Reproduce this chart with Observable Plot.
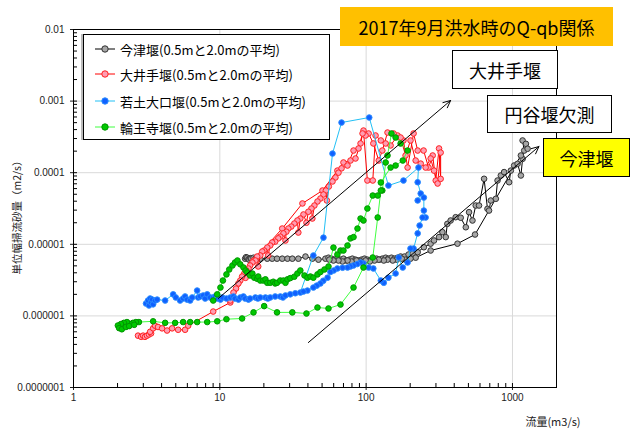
<!DOCTYPE html>
<html><head><meta charset="utf-8">
<script src="https://cdn.jsdelivr.net/npm/d3@7"></script>
<script src="https://cdn.jsdelivr.net/npm/@observablehq/plot@0.6"></script>
<style>
body{margin:0;background:#fff;}
#wrap{position:relative;width:635px;height:430px;overflow:hidden;font-family:"Noto Sans CJK JP","Noto Sans",sans-serif;}
#wrap svg{position:absolute;left:0;top:0;overflow:visible;}
.box{position:absolute;box-sizing:border-box;display:flex;align-items:center;justify-content:center;color:#000;white-space:nowrap;}
#legend{position:absolute;left:83px;top:34px;width:247px;height:106px;box-sizing:border-box;border:1px solid #000;background:#fff;box-shadow:-2px 0 0 #bbb;}
.lrow{position:absolute;left:0;height:20px;display:flex;align-items:center;font-size:13px;white-space:nowrap;}
</style></head><body>
<div id="wrap"></div>
<script>
// ---- data (Q in m3/s, qb in m2/s) ----
const seriesNames = ["今津堰(0.5mと2.0mの平均)","大井手堰(0.5mと2.0mの平均)","若土大口堰(0.5mと2.0mの平均)","輪王寺堰(0.5mと2.0mの平均)"];

const imazu = [
[14.9,6.3e-6],[15.1,6.6e-6],[15.4,6.5e-6],[15.7,6.2e-6],[15.9,6.1e-6],[16.2,6.4e-6],[16.4,6.3e-6],[17.0,6.5e-6],[17.5,6.3e-6],
[18.9,6.3e-6],[21.1,6.3e-6],[22.8,6.3e-6],[24.6,6.3e-6],[26.7,6.3e-6],[29.0,6.3e-6],[31.3,6.3e-6],[34.4,6.3e-6],[38.5,6.75e-6],[42.9,6.3e-6],[47.2,6.1e-6],[52.7,6.3e-6],
[55.3,6.5e-6],[58.0,6.3e-6],[60.7,6.1e-6],[63.6,6.3e-6],[66.8,6.1e-6],[70.0,6.3e-6],[73.3,5.94e-6],[76.8,6.1e-6],[80.5,6.3e-6],[84.6,6.1e-6],[88.7,5.94e-6],[92.9,6.1e-6],[97.4,6.3e-6],[102,6.1e-6],[107,5.94e-6],[112,6.1e-6],[118,6.3e-6],[123,6.1e-6],[129,6.3e-6],[136,6.5e-6],[142,6.3e-6],[149,6.5e-6],[156,6.3e-6],[164,6.5e-6],[172,6.75e-6],[183,6.75e-6],[195,7.2e-6],[208,7.45e-6],[225,7.76e-6],
[248,9.1e-6],[276,1.02e-5],[291,1.13e-5],[315,1.26e-5],[332,1.48e-5],[350,1.26e-5],[359,1.93e-5],[378,2.15e-5],[409,2.39e-5],[443,2.35e-5],[480,1.73e-5],[505,2.81e-5],[533,2.15e-5],[561,3.48e-5],[591,3.48e-5],[640,8.22e-5],[675,3.13e-5],[692,2.96e-5],[711,4.09e-5],[770,4.32e-5],[791,7.78e-5],[833,9.14e-5],[877,1.02e-4],[949,7.36e-5],[975,1.07e-4],[1027,1.26e-4],[1084,1.33e-4],[1142,9.14e-5],[1173,1.56e-4],[1203,2.04e-4],[1173,2.82e-4],[1236,2.53e-4],[1269,2.16e-4],[1142,1.74e-4],
[555,1.37e-5],[421,1.02e-5],[276,8.19e-6],
[218,6.5e-6],[201,6.3e-6],[186,6.1e-6],[175,6.3e-6],[162,6.1e-6],[152,5.94e-6],[140,6.1e-6],[132,5.94e-6],[122,6.1e-6],[114,5.94e-6],[106,5.75e-6],[99.1,5.94e-6],[91.6,5.75e-6],[85.9,5.94e-6],[79.4,5.75e-6],[74.6,5.94e-6],[68.9,5.75e-6],[64.7,5.94e-6],[59.8,5.94e-6],[56.1,6.1e-6]
];

const ooide = [
[2.76,5.3e-7],[2.90,5.1e-7],[2.99,5.3e-7],[3.08,5.1e-7],[3.18,5.3e-7],[3.28,5.5e-7],[3.39,5.7e-7],[3.34,6.0e-7],[3.50,6.7e-7],[3.61,7.3e-7],[3.78,7.0e-7],[4.03,6.7e-7],[4.36,6.25e-7],[4.72,6.7e-7],[5.19,6.4e-7],[5.79,6.4e-7],[6.08,7.3e-7],
[9.01,1.15e-6],[11.8,1.54e-6],[17.0,5.94e-6],[26.7,1.66e-5],[36.7,3.72e-5],[50.3,5.64e-5],[63.6,1.07e-4],
[70.0,1.39e-4],[78.2,1.48e-4],[84.6,1.58e-4],[91.6,2.56e-4],[95.9,3.88e-4],[102,7.78e-5],[111,7.78e-5],[116,3.31e-4],[126,2.82e-4],[136,2.56e-4],[147,2.40e-4],[164,3.31e-4],[180,2.82e-4],[192,1.18e-4],[211,3.53e-4],[225,2.04e-4],[247,2.04e-4],[267,1.18e-4],[285,1.74e-4],[299,7.78e-5],[315,2.18e-4],[323,8.2e-5],
[323,1.91e-4],[308,7.06e-5],[291,1.07e-4],[276,1.58e-4],[255,1.18e-4],[236,1.34e-4],[218,1.48e-4],[201,2.82e-4],[186,1.74e-4],[172,3.1e-4],[154,3.53e-4],[140,3.64e-4],[129,2.04e-4],[122,1.48e-4],[112,2.56e-4],[104,3.53e-4],[99.1,3.31e-4],[94.5,3.53e-4],[88.7,2.18e-4],[82.0,2.04e-4],[74.6,1.26e-4],
[67.9,1.15e-4],[64.7,1.0e-4],[61.7,8.57e-5],[58.9,7.54e-5],[55.6,6.41e-5],[53.9,4.09e-5],[53.1,5.64e-5],[51.1,4.96e-5],[48.7,4.36e-5],[46.5,3.96e-5],[44.3,3.48e-5],[42.9,2.29e-5],[42.3,3.16e-5],[40.3,2.85e-5],[39.1,2.0e-5],[37.3,2.61e-5],[35.5,2.29e-5],[34.4,1.46e-5],[33.9,2.15e-5],[32.3,1.95e-5],[30.8,1.77e-5],[29.4,1.66e-5],[28.5,1.50e-5],[28.1,1.13e-5],[27.2,1.42e-5],[25.9,1.28e-5],[25.1,1.21e-5],[23.9,1.09e-5],[22.8,1.06e-5],[22.1,9.62e-6],[21.4,7.0e-6],[21.1,9.02e-6],[20.1,8.19e-6],[19.5,7.93e-6],[18.9,6.98e-6],[18.3,4.9e-6],[18.0,6.75e-6],[17.5,5.94e-6],[16.7,5.57e-6],[16.1,5.06e-6],[15.7,4.59e-6],[15.2,4.31e-6],[15.0,3.4e-6],[14.7,3.91e-6],[14.2,3.55e-6],[13.8,3.12e-6],[13.4,2.84e-6],[12.9,2.41e-6],[12.4,2.12e-6],[11.8,1.64e-6]
];

const wakato = [
[3.13,1.49e-6],[3.23,1.64e-6],[3.28,1.40e-6],[3.34,1.75e-6],[3.39,1.54e-6],[3.45,1.69e-6],[3.50,1.45e-6],[3.61,1.64e-6],[3.73,1.69e-6],[4.23,1.64e-6],[4.80,2.0e-6],[5.0,1.81e-6],[5.35,1.64e-6],[5.61,1.75e-6],[5.79,1.87e-6],[5.98,1.69e-6],[6.27,1.64e-6],[6.47,1.81e-6],[7.0,2.26e-6],[7.11,1.81e-6],[7.34,1.87e-6],[7.70,1.93e-6],[7.94,1.75e-6],[8.2,2.0e-6],[8.59,1.81e-6],[9.01,1.81e-6],[9.3,1.87e-6],[9.6,1.75e-6],[10.1,1.69e-6],[10.4,1.81e-6],[11.1,1.75e-6],[11.8,1.81e-6],[12.4,1.87e-6],[12.7,1.75e-6],[13.4,1.69e-6],[13.8,1.81e-6],[14.5,1.87e-6],[14.9,1.75e-6],[15.7,1.69e-6],[16.1,1.75e-6],[17.5,1.81e-6],[18.2,1.75e-6],[18.9,1.81e-6],[20.5,1.81e-6],[21.3,1.75e-6],[22.1,1.81e-6],[23.9,1.87e-6],[25.9,1.87e-6],[27.0,1.81e-6],[28.1,1.93e-6],[30.3,2.0e-6],[32.8,2.07e-6],[35.5,2.12e-6],
[43.6,6.98e-6],[51.1,1.24e-5],[58.9,1.85e-4],[67.9,5.02e-4],[105,5.9e-4],[142,6.62e-5],[180,7.78e-5],[228,1.18e-4],[225,7.36e-5],[236,5.12e-5],[225,4.09e-5],[248,4.5e-5],[248,2.96e-5],[255,2.37e-5],[243,2.37e-5],[232,1.83e-5],[225,1.42e-5],[211,8.73e-6],[201,8.73e-6],[192,5.57e-6],[178,4.74e-6],[167,6.54e-6],[159,3.91e-6],[142,3.42e-6],[132,2.9e-6],[126,3.12e-6],[112,4.6e-6],[104,4.74e-6],[95.9,5.4e-6],[91.6,5.57e-6],[87,5.3e-6],[82.0,5.06e-6],[78,4.9e-6],[74.6,4.74e-6],[69,4.7e-6],[63.6,4.6e-6],[60,4.3e-6],[57.0,4.1e-6],[54.5,3.42e-6],[51,3.1e-6],[48.7,2.84e-6],[46,2.65e-6],[43.6,2.49e-6],[39.7,2.26e-6],[37.3,2.19e-6]
];

const rinnoji = [
[9.01,1.64e-6],[9.6,2.0e-6],[10.1,2.49e-6],[10.5,3.12e-6],[11.1,3.8e-6],[11.6,4.45e-6],[12.2,5.06e-6],[12.7,5.57e-6],[13.2,5.94e-6],[13.8,5.25e-6],[14.5,4.75e-6],[15.0,4.3e-6],[15.4,4.04e-6],[16.1,3.67e-6],[16.7,3.9e-6],[17.2,3.42e-6],[18.0,3.3e-6],[18.3,3.55e-6],[18.9,3.12e-6],[19.8,3.12e-6],[20.5,3.24e-6],[21.1,2.9e-6],[22.1,2.9e-6],[23.2,3.0e-6],[23.9,2.84e-6],[24.6,2.9e-6],[25.9,3.12e-6],[27.2,3.12e-6],[28.1,2.9e-6],[29.0,3.24e-6],[30.3,3.37e-6],[32.3,3.53e-6],[33.9,3.91e-6],[35.5,4.31e-6],[37.9,3.67e-6],[39.7,3.42e-6],[41.6,3.55e-6],[43.6,3.42e-6],[46.5,3.8e-6],[48.7,4.1e-6],[51.9,4.45e-6],[55.3,4.9e-6],[59.8,9.0e-6],[63.6,7.2e-6],[66.8,8.19e-6],[70.0,8.19e-6],[74.6,9.62e-6],[78.2,1.21e-5],[82.0,1.26e-5],[87.3,1.66e-5],[91.6,2.29e-5],[95.9,2.15e-5],[102,3.16e-5],[111,4.8e-5],[120,4.8e-5],[129,5.64e-5],[136,1.39e-4],[140,1.74e-4],[149,3.53e-4],
[159,3.1e-4],[172,2.56e-4],[192,2.04e-4],[178,1.48e-4],[159,1.26e-4],[147,1.18e-4],
[126,7.3e-5],[126,5.64e-5],[120,2.37e-5],[111,6.54e-6],[95.9,4.74e-6],[82.0,2.49e-6],[66.8,1.44e-6],[55.3,1.27e-6],[46.5,1.31e-6],[39.1,1.08e-6],[31.3,1.12e-6],[24.6,1.12e-6],[20.1,1.37e-6],[17.0,1.12e-6],[14.2,9.2e-7],[11.1,9.0e-7],[9.6,8.4e-7],[8.2,8.2e-7],[7.0,8.2e-7],[6.27,8.2e-7],[5.61,8.2e-7],[4.95,8.0e-7],[4.23,8.0e-7],[3.50,8.4e-7],[2.80,8.2e-7],[2.67,8.2e-7],[2.55,8.0e-7],[2.43,7.7e-7],[2.32,8.2e-7],[2.21,8.0e-7],[2.11,7.7e-7],[2.01,7.34e-7],[2.05,6.75e-7],[2.14,6.5e-7],[2.28,7.0e-7],[2.40,7.2e-7],[2.60,7.5e-7]
];

// annotation arrows (data coordinates)
const arrowStartQ = [9.75, 40.3];
const arrowStartQb = [1.75e-6, 4.25e-7];
const arrowEndQ = [378, 1517];
const arrowEndQb = [1.02e-3, 2.32e-4];

// axes
const xTicks = [1, 10, 100, 1000];
const xTickLabels = ["1", "10", "100", "1000"];
const yTicks = [1e-7, 1e-6, 1e-5, 1e-4, 1e-3, 1e-2];
const yTickLabels = ["0.0000001", "0.000001", "0.00001", "0.0001", "0.001", "0.01"];
const xGrid = [10, 100, 1000];
const yGrid = [1e-6, 1e-5, 1e-4, 1e-3];
const xLabel = "流量(m3/s)";
const yLabel = "単位幅掃流砂量（m2/s）";
const titleText = "2017年9月洪水時のQ-qb関係";
const noteTexts = ["大井手堰", "円谷堰欠測", "今津堰"];

// ---- styles ----
const styles = [
  {line: "#000000", fill: "#A6A6A6", stroke: "#333333"},
  {line: "#FF0000", fill: "#FF9DB2", stroke: "#FF2020"},
  {line: "#22C0F5", fill: "#1060FF", stroke: "#2A8CFF"},
  {line: "#40FF40", fill: "#00C800", stroke: "#009600"}
];
const seriesData = [imazu, ooide, wakato, rinnoji];

const xMinor = [];
for (const d of [1, 10, 100, 1000]) for (let k = 1; k <= 9; k++) if (d * k <= 2000) xMinor.push(d * k);
const yMinor = [];
for (const d of [1e-7, 1e-6, 1e-5, 1e-4, 1e-3]) for (let k = 1; k <= 9; k++) yMinor.push(d * k);
yMinor.push(1e-2);

const arrows = arrowStartQ.map((q, i) => ({x1: q, y1: arrowStartQb[i], x2: arrowEndQ[i], y2: arrowEndQb[i]}));

const marks = [
  Plot.ruleX(xGrid, {x: d => d, stroke: "#D9D9D9", strokeWidth: 1}),
  Plot.ruleY(yGrid, {y: d => d, stroke: "#D9D9D9", strokeWidth: 1}),
  Plot.tickX(xMinor, {x: d => d, insetTop: 354, stroke: "#000"}),
  Plot.tickY(yMinor, {y: d => d, insetRight: 479, stroke: "#000"})
];
seriesData.forEach((arr, i) => {
  const rows = arr.map(([q, v]) => ({q, v}));
  marks.push(Plot.line(rows, {x: "q", y: "v", stroke: styles[i].line, strokeWidth: 1}));
  marks.push(Plot.dot(rows, {x: "q", y: "v", r: 2.8, fill: styles[i].fill, stroke: styles[i].stroke, strokeWidth: 1}));
});
marks.push(Plot.arrow(arrows, {x1: "x1", y1: "y1", x2: "x2", y2: "y2", stroke: "#000", strokeWidth: 1, headLength: 12, headAngle: 50}));
marks.push(Plot.frame({stroke: "#000", strokeWidth: 1}));

const svg = Plot.plot({
  width: 635, height: 430,
  marginLeft: 73, marginRight: 79, marginTop: 29, marginBottom: 43,
  style: {fontFamily: "'Liberation Sans', Arial, sans-serif", fontSize: "10px", color: "#222", background: "transparent"},
  x: {type: "log", domain: [1, 2000], ticks: xTicks, tickFormat: d => xTickLabels[xTicks.indexOf(d)], tickSize: 3, tickPadding: 3, label: null},
  y: {type: "log", domain: [1e-7, 1e-2], ticks: yTicks, tickFormat: d => yTickLabels[yTicks.indexOf(d)], tickSize: 3, tickPadding: 6, label: null},
  marks
});

const wrap = document.getElementById("wrap");
wrap.appendChild(svg);

const s = d3.select(svg);
s.append("text").attr("transform", "translate(18,215) rotate(-90)").attr("text-anchor", "middle").attr("dominant-baseline", "middle")
  .style("font-family", "'Noto Sans CJK JP', sans-serif").style("font-size", "10.5px").attr("fill", "#222").text(yLabel);
s.append("text").attr("x", 553).attr("y", 423).attr("text-anchor", "middle").attr("dominant-baseline", "middle")
  .style("font-family", "'Noto Sans CJK JP', sans-serif").style("font-size", "11px").attr("fill", "#222").text(xLabel);

// legend
const legend = document.createElement("div");
legend.id = "legend";
const rowTops = [4, 29, 56, 82];
seriesNames.forEach((name, i) => {
  const row = document.createElement("div");
  row.className = "lrow";
  row.style.top = rowTops[i] + "px";
  row.innerHTML = `<svg width="36" height="20" style="position:static"><line x1="11" x2="31" y1="10" y2="10" stroke="${styles[i].line}" stroke-width="1"/><circle cx="21" cy="10" r="3.2" fill="${styles[i].fill}" stroke="${styles[i].stroke}" stroke-width="1"/></svg><span>${name}</span>`;
  legend.appendChild(row);
});
wrap.appendChild(legend);

// annotation boxes
function addBox(text, left, top, w, h, bg, fs, bw) {
  const b = document.createElement("div");
  b.className = "box";
  Object.assign(b.style, {left: left + "px", top: top + "px", width: w + "px", height: h + "px", background: bg, fontSize: fs + "px", border: bw ? bw + "px solid #000" : "none"});
  b.textContent = text;
  wrap.appendChild(b);
}
addBox(titleText, 340, 7, 273, 39, "#FFC000", 18, 0);
addBox(noteTexts[0], 452, 50, 106, 39, "#FFFFFF", 18, 1.5);
addBox(noteTexts[1], 487, 95, 125, 38, "#FFFFFF", 18, 1.5);
addBox(noteTexts[2], 543, 138, 87, 39, "#FFFF00", 18, 1.5);
</script>
</body></html>
